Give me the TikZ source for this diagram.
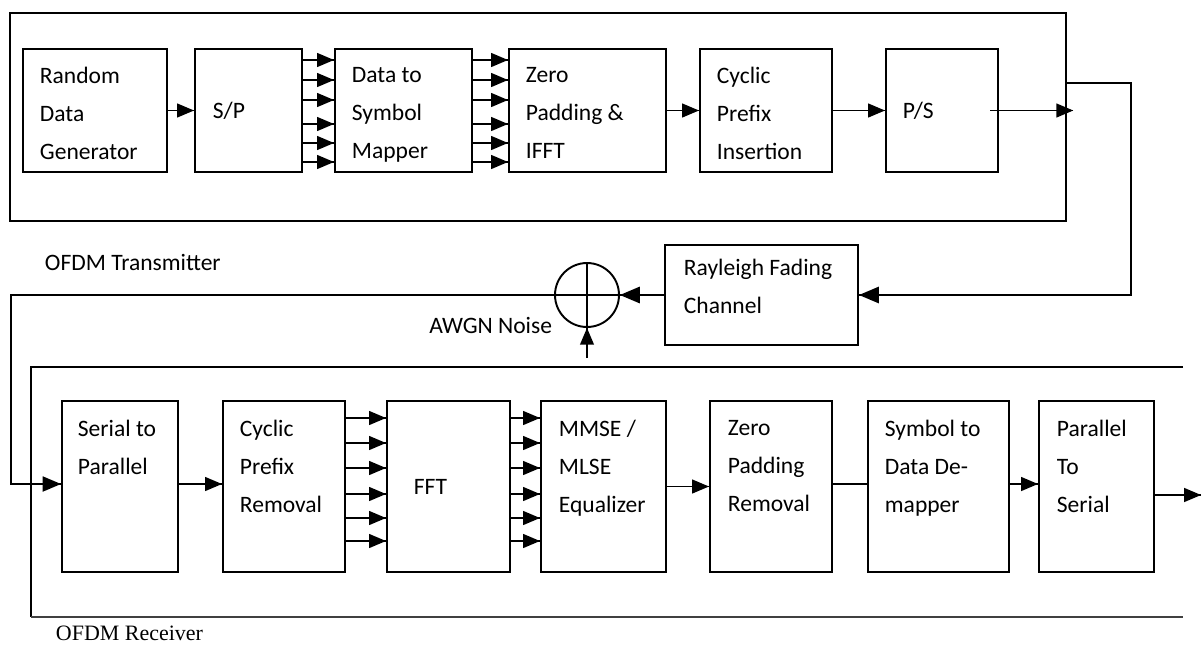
\documentclass[tikz,border=0pt]{standalone}
\usepackage{fontspec}
\setmainfont{Carlito}
\newfontfamily\rxfont{Liberation Serif}
\usepackage{tikz}
\usetikzlibrary{arrows}
\usetikzlibrary{decorations.markings}
\usetikzlibrary{positioning}
\tikzset{->/.style = {decoration={markings,
                                  mark=at position 1 with {\arrow[scale=1.05]{triangle 45}}},
                      postaction={decorate}}}
\tikzset{blk/.style = {draw, rectangle, line width=1.2pt, inner sep=0, minimum height=2.46cm}}
\tikzset{rxblk/.style = {blk, minimum height=3.42cm}}
\tikzset{txt/.style = {inner sep=0, align=left, font=\fontsize{13.4}{21.6}\selectfont}}
\tikzset{frame/.style = {line width=1.5pt}}

\begin{document}
\begin{tikzpicture}[x=0.02cm, y=-0.02cm, line width=1.1pt]
      \useasboundingbox (0,0) rectangle (1203,646);

      % transmitter
      \node [draw, frame, minimum width=21.12cm, minimum height=4.16cm] (tx) at (538,117) {};
      \node [blk, minimum width=2.88cm] (rdg) at (95,110.5) {};
      \node [blk, minimum width=2.14cm] (sp) at (248.5,110.5) {};
      \node [blk, minimum width=2.74cm] (dsm) at (403.5,110.5) {};
      \node [blk, minimum width=3.14cm] (zpi) at (587.5,110.5) {};
      \node [blk, minimum width=2.64cm] (cpi) at (766,110.5) {};
      \node [blk, minimum width=2.24cm] (ps) at (942,110.5) {};

      \node [txt, below right=0.37cm and 0.34cm of rdg.north west] (rdg-t) {Random\\Data\\Generator};
      \node [txt, right=0.36cm of sp.west] (sp-t) {S/P};
      \node [txt, below right=0.37cm and 0.34cm of dsm.north west] (dsm-t) {Data to\\Symbol\\Mapper};
      \node [txt, below right=0.37cm and 0.34cm of zpi.north west] (zpi-t) {Zero\\Padding \&\\IFFT};
      \node [txt, below right=0.37cm and 0.34cm of cpi.north west] (cpi-t) {Cyclic\\Prefix\\Insertion};
      \node [txt, right=0.34cm of ps.west] (ps-t) {P/S};

      \draw [->] (rdg) -- (sp);
      \foreach \y in {60,80,100,124,143,162} {
        \draw [->] (sp.east |- 0,\y) -- (dsm.west |- 0,\y);
        \draw [->] (dsm.east |- 0,\y) -- (zpi.west |- 0,\y);
      }
      \draw [->] (zpi) -- (cpi);
      \draw [->] (cpi) -- (ps);
      \draw [->] ([xshift=-0.18cm]ps.east) -- ([xshift=0.12cm]ps -| tx.east);

      \node [txt, anchor=west] (tx-t) at (44,262) {OFDM Transmitter};

      % channel
      \coordinate (tap) at (1131,83);
      \node [blk, minimum width=3.86cm, minimum height=2cm] (ray) at (761.5,295) {};
      \node [txt, below right=0.29cm and 0.38cm of ray.north west] (ray-t) {Rayleigh Fading\\Channel};
      \draw [->, line width=1.5pt] (tap -| tx.east) -- (tap) |- (ray.east);

      \node [draw, circle, inner sep=0, minimum size=1.28cm] (sum) at (587,295) {};
      \draw (sum.north) -- (sum.south) (sum.west) -- (sum.east);
      \draw [->, line width=1.5pt] (ray.west) -- (sum.east);
      \node [txt, anchor=east] (awgn) at (553,325) {AWGN Noise};
      \coordinate (noise) at (587,358);
      \draw [->] (noise) -- (sum.south);

      % receiver
      \draw [frame] (1183,367) -- (31,367) -- (31,617);
      \draw [black!75] (31,617) -- (1183,617);
      \node [rxblk, minimum width=2.32cm] (s2p) at (120,486.5) {};
      \node [rxblk, minimum width=2.44cm] (cpr) at (284,486.5) {};
      \node [rxblk, minimum width=2.46cm] (fft) at (448.5,486.5) {};
      \node [rxblk, minimum width=2.50cm] (eq) at (603.5,486.5) {};
      \node [rxblk, minimum width=2.44cm] (zpr) at (771,486.5) {};
      \node [rxblk, minimum width=2.82cm] (sdd) at (938.5,486.5) {};
      \node [rxblk, minimum width=2.30cm] (p2s) at (1096.5,486.5) {};

      \node [txt, below right=0.39cm and 0.32cm of s2p.north west] (s2p-t) {Serial to\\Parallel};
      \node [txt, below right=0.39cm and 0.34cm of cpr.north west] (cpr-t) {Cyclic\\Prefix\\Removal};
      \node [txt, right=0.54cm of fft.west] (fft-t) {FFT};
      \node [txt, below right=0.39cm and 0.36cm of eq.north west] (eq-t) {MMSE /\\MLSE\\Equalizer};
      \node [txt, below right=0.39cm and 0.36cm of zpr.north west] (zpr-t) {Zero\\Padding\\Removal};
      \node [txt, below right=0.39cm and 0.34cm of sdd.north west] (sdd-t) {Symbol to\\Data De-\\mapper};
      \node [txt, below right=0.39cm and 0.36cm of p2s.north west] (p2s-t) {Parallel\\To\\Serial};

      \coordinate (bend) at (11,484);
      \draw [->, line width=1.3pt] (sum.west) -| (bend) -- (s2p.west |- bend);
      \draw [->] (s2p.east |- bend) -- (cpr.west |- bend);
      \foreach \y in {418,443,468,494,518,541} {
        \draw [->] (cpr.east |- 0,\y) -- (fft.west |- 0,\y);
        \draw [->] (fft.east |- 0,\y) -- (eq.west |- 0,\y);
      }
      \draw [->] (eq) -- (zpr);
      \draw (zpr.east |- bend) -- (sdd.west |- bend);
      \draw [->] (sdd.east |- bend) -- (p2s.west |- bend);
      \coordinate (out) at (1201,495);
      \draw [->] (p2s.east |- out) -- (out);

      \node [anchor=west, inner sep=0, font=\rxfont\fontsize{12.5}{15}\selectfont] (rx-t) at (55,633) {OFDM Receiver};
\end{tikzpicture}
\end{document}
